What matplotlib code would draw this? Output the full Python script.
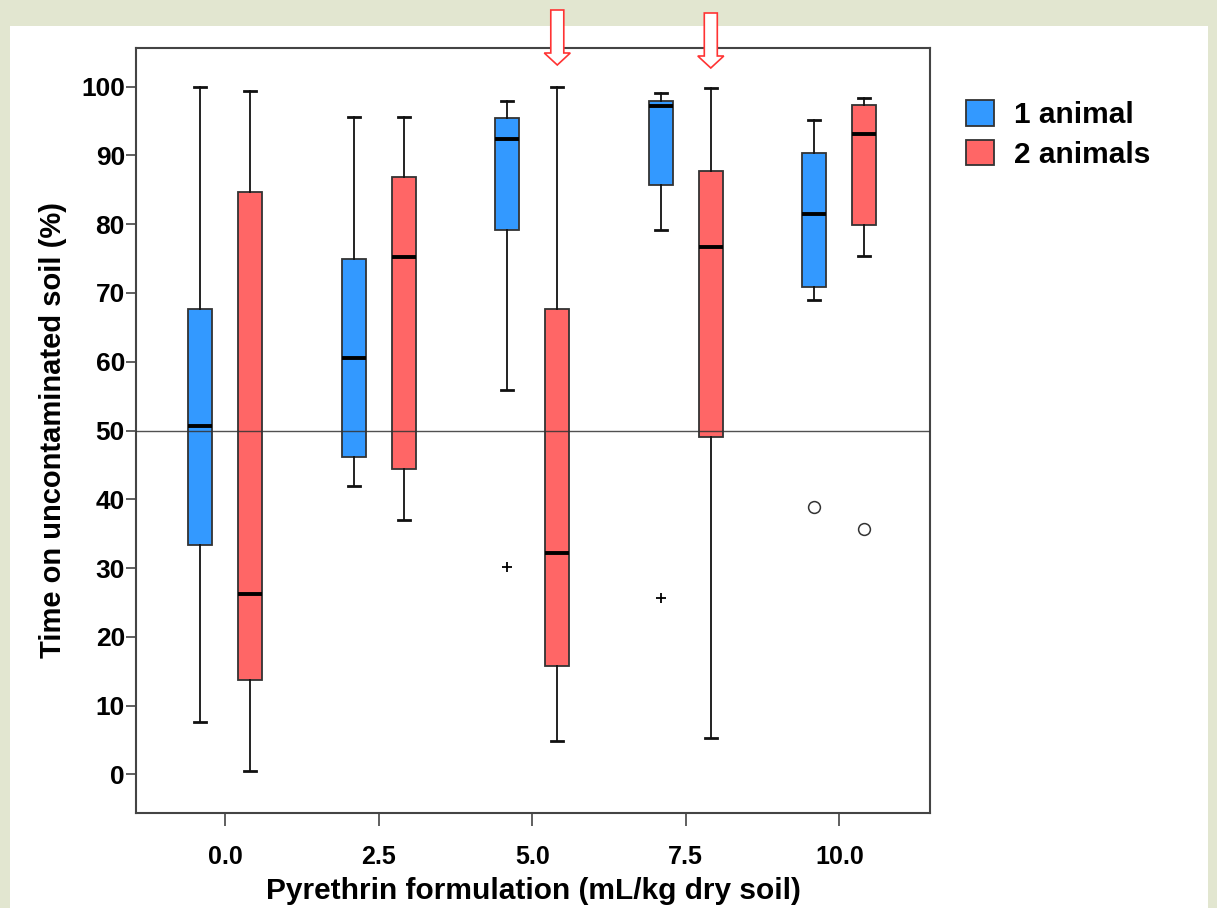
import matplotlib
matplotlib.use("Agg")
import matplotlib.pyplot as plt
from matplotlib.patches import Patch, Polygon, Rectangle
from matplotlib import transforms

plt.rcParams['font.family'] = ['Liberation Sans', 'DejaVu Sans']
plt.rcParams['font.weight'] = 'bold'

# ---- data ----
doses = [0.0, 2.5, 5.0, 7.5, 10.0]
series = ["1 animal", "2 animals"]

# 1 animal
one_whislo = [7.7, 42.0, 55.9, 79.1, 68.9]
one_q1 = [33.3, 46.2, 79.1, 85.7, 70.8]
one_med = [50.6, 60.5, 92.4, 97.2, 81.4]
one_q3 = [67.7, 74.9, 95.4, 97.9, 90.3]
one_whishi = [100.0, 95.6, 97.9, 99.1, 95.2]

# 2 animals
two_whislo = [0.5, 37.0, 4.8, 5.3, 75.4]
two_q1 = [13.8, 44.4, 15.7, 49.1, 79.9]
two_med = [26.3, 75.2, 32.2, 76.7, 93.1]
two_q3 = [84.7, 86.8, 67.6, 87.7, 97.3]
two_whishi = [99.4, 95.5, 99.9, 99.8, 98.3]

# outliers: (series index, dose, value, marker)
out_series = [0, 0, 0, 1]
out_dose = [5.0, 7.5, 10.0, 10.0]
out_value = [30.2, 25.7, 38.9, 35.7]
out_marker = ["+", "+", "o", "o"]

# doses marked with an arrow (2 animals)
arrow_doses = [5.0, 7.5]

colors = ["#3399ff", "#ff6666"]
offset = 0.407
box_w = 0.39

fig = plt.figure(figsize=(12.17, 9.08), dpi=100)
fig.patch.set_facecolor("#e2e6d0")
fig.add_artist(Rectangle((10 / 1217, 0), (1208 - 10) / 1217, 1 - 26 / 908,
                         transform=fig.transFigure, facecolor="white",
                         edgecolor="none", zorder=0))

ax = fig.add_axes([136 / 1217, 95 / 908, (930 - 136) / 1217, (813 - 48) / 908])
ax.set_facecolor("white")

all_stats = [
    (one_whislo, one_q1, one_med, one_q3, one_whishi),
    (two_whislo, two_q1, two_med, two_q3, two_whishi),
]
for s, (lo, q1, med, q3, hi) in enumerate(all_stats):
    stats = []
    for i in range(len(doses)):
        stats.append({"whislo": lo[i], "q1": q1[i], "med": med[i],
                      "q3": q3[i], "whishi": hi[i], "fliers": []})
    pos = [d + (2 * s - 1) * offset for d in doses]
    ax.bxp(stats, positions=pos, widths=box_w, patch_artist=True,
           showfliers=False, manage_ticks=False,
           boxprops=dict(facecolor=colors[s], edgecolor="#333333", linewidth=1.3),
           medianprops=dict(color="black", linewidth=2.8, solid_capstyle="butt"),
           whiskerprops=dict(color="#111111", linewidth=1.3),
           capprops=dict(color="#111111", linewidth=2.0))

for s, d, v, m in zip(out_series, out_dose, out_value, out_marker):
    x = d + (2 * s - 1) * offset
    if m == "+":
        ax.plot(x, v, marker="+", color="black", markersize=7, mew=1.3)
    else:
        ax.plot(x, v, marker="o", mfc="none", mec="#333333", markersize=8.5, mew=1.1)

ax.axhline(50, color="#333333", linewidth=1.0, alpha=0.85, zorder=5)

ax.set_xlim(-1.454, 11.477)
ax.set_ylim(-5.6, 105.6)
ax.set_xticks(doses)
ax.set_xticklabels(["%.1f" % d for d in doses])
ax.set_yticks(range(0, 101, 10))

for sp in ax.spines.values():
    sp.set_color("#444444")
    sp.set_linewidth(1.5)
ax.tick_params(axis="y", direction="out", length=7, width=1.2, color="#444444",
               labelsize=19, pad=1)
ax.tick_params(axis="x", direction="out", length=9, width=1.2, color="#444444",
               labelsize=18, pad=14)

ax.set_xlabel("Pyrethrin formulation (mL/kg dry soil)", fontsize=21.5,
              fontweight="bold", labelpad=6)
ax.set_ylabel("Time on uncontaminated soil (%)", fontsize=21,
              fontweight="bold", labelpad=10)

handles = [Patch(facecolor=colors[i], edgecolor="#333333", linewidth=1.3)
           for i in range(2)]
fig.legend(handles, series, loc="upper left",
           bbox_to_anchor=(966 / 1217, 1 - 100 / 908), frameon=False,
           handlelength=0.95, handleheight=0.95,
           handletextpad=0.65, labelspacing=0.35, borderpad=0,
           borderaxespad=0, prop={"weight": "bold", "size": 21.5})

# hollow red arrows above the plot
tr = transforms.blended_transform_factory(ax.transData, fig.transFigure)
shaft = 6.5 / 153.5 * 2.5
head = 13 / 153.5 * 2.5
for k, d in enumerate(arrow_doses):
    x = d + offset
    dy = 3 * k
    top = 1 - (10 + dy) / 908
    base = 1 - (53 + dy) / 908
    tip = 1 - (65 + dy) / 908
    pts = [(x - shaft, top), (x + shaft, top), (x + shaft, base),
           (x + head, base), (x, tip), (x - head, base), (x - shaft, base)]
    fig.add_artist(Polygon(pts, closed=True, transform=tr, facecolor="white",
                           edgecolor="#ff3333", linewidth=1.2, zorder=10))

fig.savefig("out.png", dpi=100, facecolor=fig.get_facecolor())
